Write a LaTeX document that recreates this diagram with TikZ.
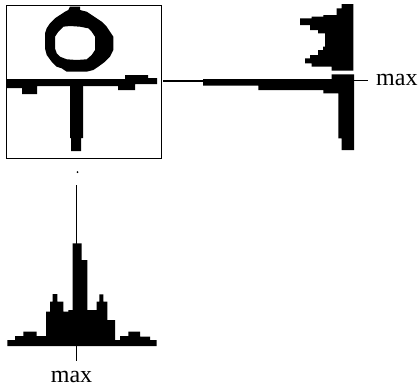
\documentclass[tikz,border=0pt]{standalone}
\usepackage{fontspec}
\setmainfont{Liberation Serif}
\begin{document}
\begin{tikzpicture}[x=1pt,y=-1pt,
  ink/.style={fill=black,draw=none},
  rule/.style={draw=black,line width=1pt},
  lbl/.style={font=\fontsize{24}{28}\selectfont,inner sep=0pt}]
\useasboundingbox (0,0) rectangle (419,391);

% frame around the image
\node[draw=black,line width=1.1pt,minimum width=155pt,minimum height=153pt,inner sep=0pt,anchor=north west] (frame) at (6,5) {};

% ring
\fill[even odd rule] (70,6.7) -- (80,6.7) -- (80,10) -- (86.7,11.7) -- (91.7,15) -- (96.7,18.3)
  -- (101.7,21.7) -- (106.7,26.7) -- (110,31.7) -- (113.3,36.7) -- (113.3,50) -- (110,56.7)
  -- (105,61.7) -- (98.3,66.7) -- (93.3,70) -- (86.7,71.7) -- (66.7,71.7) -- (61.7,68.3)
  -- (56.7,66.7) -- (51.7,61.7) -- (46.7,55) -- (45,48.3) -- (45,33.3) -- (46.7,28.3)
  -- (50,23.3) -- (55,18.3) -- (60,15) -- (65,11.7) -- (68.3,10) -- cycle
  (63.3,26.7) -- (70,26) -- (80,26.7) -- (88.3,28.3) -- (91.7,31.7) -- (95,36.7) -- (95,50)
  -- (91.7,55) -- (86.7,59.3) -- (76.7,60) -- (66.7,59.3) -- (60,56.7) -- (56.7,53.3)
  -- (55,48.3) -- (55,36.7) -- (58.3,31.7) -- cycle;

% horizontal bar of the T
\fill (7,79) -- (125,79) -- (125,75) -- (148,75) -- (148,78) -- (157,78) -- (157,84)
  -- (135,84) -- (135,90) -- (118,90) -- (118,86) -- (37,86) -- (37,94) -- (22,94)
  -- (22,88) -- (7,88) -- cycle;
% vertical bar of the T
\fill (70,85) -- (83,85) -- (83,138) -- (81,138) -- (81,151) -- (71,151) -- (71,138)
  -- (70,138) -- cycle;

% row profile (right)
\fill (353.3,4) -- (341.7,4) -- (341.7,8.3) -- (336.7,8.3) -- (336.7,15) -- (323.3,15)
  -- (323.3,16.7) -- (311.7,16.7) -- (311.7,18.3) -- (300,18.3) -- (300,25) -- (310,25)
  -- (310,30) -- (318,30) -- (318,33.3) -- (325,33.3) -- (325,46.7) -- (323,46.7)
  -- (323,50) -- (318,50) -- (318,55) -- (310,55) -- (310,58.3) -- (305,58.3)
  -- (305,63.3) -- (311.7,63.3) -- (311.7,66.7) -- (331.7,66.7) -- (331.7,70.7)
  -- (353.3,70.7) -- cycle;
\fill (203,79) -- (331.7,79) -- (331.7,74.3) -- (354,74.3) -- (354,150) -- (341.7,150)
  -- (341.7,138.3) -- (338.3,138.3) -- (338.3,93.3) -- (323.3,93.3) -- (323.3,90)
  -- (258.3,90) -- (258.3,85.7) -- (203,85.7) -- cycle;
\coordinate (frameE) at (163,81);
\coordinate (rowW) at (204,81);
\draw[rule,line width=1.4pt] (frameE) -- (rowW);
\coordinate (rowmax) at (354,80);
\coordinate (rowtick) at (368,80);
\draw[rule] (rowmax) -- (rowtick);
\node[lbl,anchor=base west] (maxr) at (376,85) {max};

% column profile (bottom)
\fill (7.3,346) -- (7.3,340) -- (15,340) -- (15,336) -- (23.3,336) -- (23.3,331.7)
  -- (36.7,331.7) -- (36.7,336) -- (46,336) -- (46,311.7) -- (50,311.7) -- (50,301.7)
  -- (52.7,301.7) -- (52.7,294) -- (57.3,294) -- (57.3,301.7) -- (63.3,301.7)
  -- (63.3,311.7) -- (68.3,311.7) -- (68.3,310) -- (72.7,310) -- (72.7,243.3)
  -- (81.7,243.3) -- (81.7,260) -- (87.3,260) -- (87.3,310) -- (96.7,310) -- (96.7,301.7)
  -- (99.3,301.7) -- (99.3,294.3) -- (103.3,294.3) -- (103.3,301.7) -- (107.3,301.7)
  -- (107.3,320) -- (115,320) -- (115,340) -- (120,340) -- (120,336) -- (128.3,336)
  -- (128.3,331.7) -- (140,331.7) -- (140,336.7) -- (150,336.7) -- (150,340)
  -- (156.7,340) -- (156.7,346) -- cycle;
\coordinate (colN) at (76.5,185);
\coordinate (colpeak) at (76.5,244);
\draw[rule] (colN) -- (colpeak);
\fill (77.5,172) circle (1pt);
\coordinate (colmax) at (76.5,346);
\coordinate (coltick) at (76.5,361);
\draw[rule] (colmax) -- (coltick);
\node[lbl,anchor=base] (maxc) at (71.5,382) {max};
\end{tikzpicture}
\end{document}
